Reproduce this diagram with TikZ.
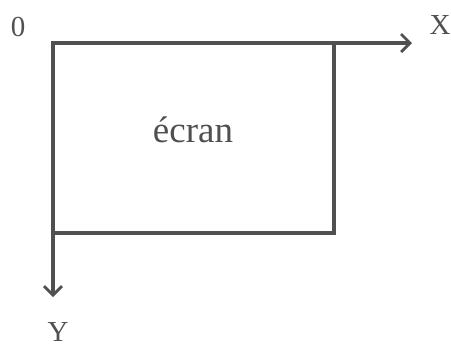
\documentclass[tikz,border=0pt]{standalone}
\usepackage{fontspec}
\setmainfont{Liberation Serif}
\usetikzlibrary{arrows.meta}
\definecolor{ink}{HTML}{505050}
\tikzset{
  axis/.style={draw=ink, line width=3.2pt, -{Straight Barb[length=9pt,width=18pt,line width=2.8pt]}},
  frame/.style={draw=ink, line width=3.2pt},
  lbl/.style={text=ink, font=\fontsize{29}{34}\selectfont, inner sep=0pt},
}
\begin{document}
\begin{tikzpicture}[x=1pt,y=-1pt]
  \useasboundingbox (0,0) rectangle (451,354);
  \coordinate (O) at (53,43);
  \coordinate (xend) at (412,43);
  \coordinate (yend) at (53,297);
  \coordinate (corner) at (334,233);
  \draw[frame] (O) rectangle (corner);
  \draw[axis] (O) -- (xend);
  \draw[axis] (O) -- (yend);
  \node[lbl] (zero) at (18,27) {0};
  \node[lbl] (xlab) at (440,25) {X};
  \node[lbl] (ylab) at (58,332) {Y};
  \node[lbl, font=\fontsize{37}{42}\selectfont] (screen) at (193,130) {écran};
\end{tikzpicture}
\end{document}
